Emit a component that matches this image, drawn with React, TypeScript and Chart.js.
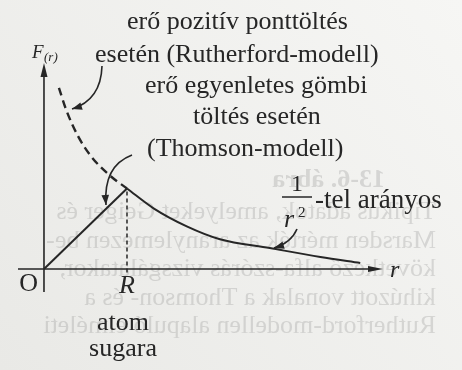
import React, { useEffect, useRef } from "react";
import { Chart, registerables } from "chart.js";

Chart.register(...registerables);

// Distance r in units of the atomic radius R, force F in units of F(R).
const thomsonRiseR = [0, 1];
const thomsonRiseF = [0, 1];
const thomsonTailR = [1, 1.32, 1.72, 2.12, 2.72, 3.33, 3.81];
const thomsonTailF = [1, 0.754, 0.53, 0.37, 0.26, 0.15, 0.075];
const rutherfordR = [0.18, 0.27, 0.41, 0.575, 0.795, 1];
const rutherfordF = [2.25, 1.97, 1.65, 1.39, 1.16, 1];
const atomRadius = 1;

// Label texts
const rutherfordLabel = ["erő pozitív ponttöltés", "esetén (Rutherford-modell)"];
const thomsonLabel = ["erő egyenletes gömbi", "töltés esetén", "(Thomson-modell)"];
const radiusLabel = ["atom", "sugara"];
const proportionalLabel = "-tel arányos";
const reverseSideLines = [
  "Tipikus adatok, amelyeket Geiger és",
  "Marsden mérték az aranylemezen be-",
  "következő alfa-szórás vizsgálatakor,",
  "kihúzott vonalak a Thomson- és a",
  "Rutherford-modellen alapuló elméleti",
];
const reverseSideCaption = "13-6. ábra";

const INK = "#262626";
const SERIF = '"Liberation Serif", "DejaVu Serif", serif';

type Ctx = CanvasRenderingContext2D;

function arrowHead(ctx: Ctx, tipX: number, tipY: number, fromX: number, fromY: number, len: number, half: number) {
  const a = Math.atan2(tipY - fromY, tipX - fromX);
  const bx = tipX - Math.cos(a) * len;
  const by = tipY - Math.sin(a) * len;
  ctx.beginPath();
  ctx.moveTo(tipX, tipY);
  ctx.lineTo(bx + Math.sin(a) * half, by - Math.cos(a) * half);
  ctx.lineTo(bx - Math.sin(a) * half, by + Math.cos(a) * half);
  ctx.closePath();
  ctx.fill();
}

function curvedArrow(ctx: Ctx, x0: number, y0: number, cx: number, cy: number, x1: number, y1: number) {
  ctx.beginPath();
  ctx.moveTo(x0, y0);
  ctx.quadraticCurveTo(cx, cy, x1, y1);
  ctx.stroke();
  arrowHead(ctx, x1, y1, cx, cy, 10, 3.8);
}

const paperPlugin = {
  id: "paper",
  beforeDraw(chart: Chart) {
    const ctx = chart.ctx;
    const { width, height } = chart;
    ctx.save();
    const g = ctx.createLinearGradient(0, height, width, 0);
    g.addColorStop(0, "#e9e9e6");
    g.addColorStop(1, "#f6f6f4");
    ctx.fillStyle = g;
    ctx.fillRect(0, 0, width, height);

    // print showing through from the back of the sheet (mirrored)
    ctx.translate(width, 0);
    ctx.scale(-1, 1);
    ctx.fillStyle = "rgba(110,110,110,0.21)";
    ctx.textBaseline = "alphabetic";
    ctx.textAlign = "left";
    ctx.font = `bold 26px ${SERIF}`;
    ctx.fillText(reverseSideCaption, 77, 187);
    ctx.font = `26px ${SERIF}`;
    reverseSideLines.forEach((t, i) => ctx.fillText(t, 26, 219 + i * 28.6));
    ctx.restore();
  },
};

const figurePlugin = {
  id: "figure",
  afterDatasetsDraw(chart: Chart) {
    const ctx = chart.ctx;
    const xs = chart.scales.x;
    const ys = chart.scales.y;
    const x0 = xs.getPixelForValue(0);
    const y0 = ys.getPixelForValue(0);
    const left = xs.getPixelForValue(xs.min);
    const right = xs.getPixelForValue(xs.max);
    const top = ys.getPixelForValue(ys.max);
    const bottom = ys.getPixelForValue(ys.min);

    ctx.save();
    ctx.strokeStyle = INK;
    ctx.fillStyle = INK;

    // axes
    ctx.lineWidth = 1.6;
    ctx.beginPath();
    ctx.moveTo(left, y0);
    ctx.lineTo(right - 8, y0);
    ctx.moveTo(x0, bottom);
    ctx.lineTo(x0, top + 8);
    ctx.stroke();
    arrowHead(ctx, right, y0, left, y0, 15, 3);
    arrowHead(ctx, x0, top, x0, bottom, 14, 3.5);

    // dashed marker at the atomic radius
    const xr = xs.getPixelForValue(atomRadius);
    ctx.lineWidth = 1.5;
    ctx.setLineDash([4, 3]);
    ctx.beginPath();
    ctx.moveTo(xr, ys.getPixelForValue(1) + 3);
    ctx.lineTo(xr, ys.getPixelForValue(-0.08));
    ctx.stroke();
    ctx.setLineDash([]);

    // pointer arrows
    ctx.lineWidth = 1.6;
    curvedArrow(ctx, 102, 66, 101, 100, 72, 109);
    curvedArrow(ctx, 132, 155, 103, 166, 106, 205);
    curvedArrow(ctx, 297, 229, 291, 243, 274, 248);

    // texts
    ctx.textBaseline = "alphabetic";
    ctx.textAlign = "left";
    ctx.font = `26px ${SERIF}`;
    ctx.fillText(rutherfordLabel[0], 127, 29);
    ctx.fillText(rutherfordLabel[1], 95, 62);
    ctx.fillText(thomsonLabel[0], 145, 93);
    ctx.fillText(thomsonLabel[1], 193, 124);
    ctx.fillText(thomsonLabel[2], 147, 156);
    ctx.font = `27px ${SERIF}`;
    ctx.fillText(proportionalLabel, 315, 208);

    // 1 / r^2
    ctx.textAlign = "center";
    ctx.font = `24px ${SERIF}`;
    ctx.fillText("1", 297, 191);
    ctx.lineWidth = 1.5;
    ctx.beginPath();
    ctx.moveTo(282, 197);
    ctx.lineTo(312, 197);
    ctx.stroke();
    ctx.textAlign = "left";
    ctx.font = `italic 26px ${SERIF}`;
    ctx.fillText("r", 284, 227);
    ctx.font = `15px ${SERIF}`;
    ctx.fillText("2", 298, 217);

    // axis names
    ctx.font = `italic 19px ${SERIF}`;
    ctx.fillText("F", 32, 58);
    ctx.font = `italic 13px ${SERIF}`;
    ctx.fillText("(r)", 44, 61);
    ctx.font = `italic 24px ${SERIF}`;
    ctx.fillText("r", right + 7, y0 + 8);
    ctx.font = `26px ${SERIF}`;
    ctx.textAlign = "right";
    ctx.fillText("O", x0 - 6, y0 + 22);
    ctx.textAlign = "center";
    ctx.font = `italic 26px ${SERIF}`;
    ctx.fillText("R", xr, y0 + 24);
    ctx.font = `26px ${SERIF}`;
    ctx.fillText(radiusLabel[0], 123, 330);
    ctx.fillText(radiusLabel[1], 123, 356);
    ctx.restore();
  },
};

export default function App() {
  const ref = useRef<HTMLCanvasElement>(null);
  useEffect(() => {
    const canvas = ref.current;
    if (!canvas) return;
    const pts = (rs: number[], fs: number[]) => rs.map((r, i) => ({ x: r, y: fs[i] }));
    const chart = new Chart(canvas, {
      type: "line",
      data: {
        datasets: [
          {
            data: pts(thomsonRiseR, thomsonRiseF),
            borderColor: INK,
            borderWidth: 2,
            pointRadius: 0,
            tension: 0,
            clip: false,
          },
          {
            data: pts(thomsonTailR, thomsonTailF),
            borderColor: INK,
            borderWidth: 2,
            pointRadius: 0,
            cubicInterpolationMode: "monotone",
            clip: false,
          },
          {
            data: pts(rutherfordR, rutherfordF),
            borderColor: INK,
            borderWidth: 2.4,
            borderDash: [8, 5],
            pointRadius: 0,
            cubicInterpolationMode: "monotone",
            clip: false,
          },
        ],
      },
      options: {
        responsive: false,
        animation: false,
        devicePixelRatio: 1,
        events: [],
        layout: { padding: { left: 18, right: 79, top: 63, bottom: 78 } },
        plugins: {
          legend: { display: false },
          tooltip: { enabled: false },
          title: { display: false },
        },
        scales: {
          x: { type: "linear", display: false, min: -0.313, max: 4.084 },
          y: { type: "linear", display: false, min: -0.286, max: 2.559 },
        },
      },
      plugins: [paperPlugin, figurePlugin],
    } as any);
    return () => chart.destroy();
  }, []);
  return (
    <div style={{ position: "fixed", left: 0, top: 0, width: 462, height: 370 }}>
      <canvas ref={ref} width={462} height={370} style={{ display: "block", width: 462, height: 370 }} />
    </div>
  );
}
